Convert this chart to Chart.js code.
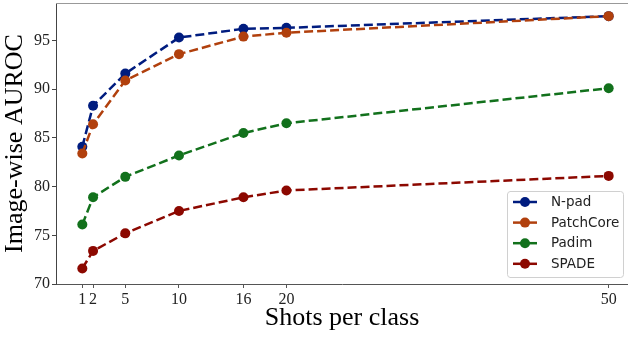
<!DOCTYPE html>
<html><head><meta charset="utf-8">
<script src="https://cdn.jsdelivr.net/npm/chart.js@4"></script>
<style>html,body{margin:0;padding:0;background:#fff}#wrap{width:628px;height:337px}</style>
</head><body><div id="wrap"><canvas id="c" width="628" height="337"></canvas></div>
<script>
const shots = [1, 2, 5, 10, 16, 20, 50];
const xTicks = [1, 2, 5, 10, 16, 20, 50];
const yTicks = [70, 75, 80, 85, 90, 95];
const seriesNames = ['N-pad', 'PatchCore', 'Padim', 'SPADE'];
const nPad = [84.1, 88.3, 91.6, 95.3, 96.2, 96.3, 97.5];
const patchCore = [83.4, 86.4, 90.9, 93.6, 95.4, 95.8, 97.5];
const padim = [76.1, 78.9, 81.0, 83.2, 85.5, 86.5, 90.1];
const spade = [71.6, 73.4, 75.2, 77.5, 78.9, 79.6, 81.1];
const seriesValues = [nPad, patchCore, padim, spade];
const colors = ['#001c7f', '#b1400d', '#12711c', '#8c0800'];

const serif = "'Liberation Serif', 'Times New Roman', serif";
const sans = "'DejaVu Sans', sans-serif";

const datasets = seriesNames.map((name, i) => ({
  label: name,
  data: shots.map((x, j) => ({ x: x, y: seriesValues[i][j] })),
  borderColor: colors[i],
  backgroundColor: colors[i],
  pointBackgroundColor: colors[i],
  pointBorderWidth: 0,
  pointRadius: 5,
  borderWidth: 2.5,
  borderDash: [9, 4],
  tension: 0,
  fill: false,
  order: seriesNames.length - i
}));

const extras = {
  id: 'extras',
  afterDraw(chart) {
    const ctx = chart.ctx;
    const a = chart.chartArea;
    ctx.save();
    // top spine
    ctx.strokeStyle = '#999';
    ctx.lineWidth = 1.2;
    ctx.beginPath();
    ctx.moveTo(a.left, a.top + 0.5);
    ctx.lineTo(chart.width, a.top + 0.5);
    ctx.stroke();
    // legend
    const bx = 507, by = 191, bw = 116, bh = 86, r = 3;
    ctx.fillStyle = 'rgba(255,255,255,0.85)';
    ctx.strokeStyle = '#d0d0d0';
    ctx.lineWidth = 1;
    ctx.beginPath();
    ctx.moveTo(bx + r, by + 0.5);
    ctx.lineTo(bx + bw - r, by + 0.5);
    ctx.arcTo(bx + bw + 0.5, by + 0.5, bx + bw + 0.5, by + r, r);
    ctx.lineTo(bx + bw + 0.5, by + bh - r);
    ctx.arcTo(bx + bw + 0.5, by + bh + 0.5, bx + bw - r, by + bh + 0.5, r);
    ctx.lineTo(bx + r, by + bh + 0.5);
    ctx.arcTo(bx + 0.5, by + bh + 0.5, bx + 0.5, by + bh - r, r);
    ctx.lineTo(bx + 0.5, by + r);
    ctx.arcTo(bx + 0.5, by + 0.5, bx + r, by + 0.5, r);
    ctx.closePath();
    ctx.fill();
    ctx.stroke();
    ctx.font = '13.5px ' + sans;
    ctx.textBaseline = 'middle';
    ctx.textAlign = 'left';
    seriesNames.forEach((name, i) => {
      const y = 202 + i * 20.6;
      ctx.strokeStyle = colors[i];
      ctx.lineWidth = 2.5;
      ctx.beginPath();
      ctx.moveTo(513, y);
      ctx.lineTo(537, y);
      ctx.stroke();
      ctx.fillStyle = colors[i];
      ctx.beginPath();
      ctx.arc(525, y, 5, 0, Math.PI * 2);
      ctx.fill();
      ctx.fillStyle = '#222';
      ctx.fillText(name, 551, y + 0.5);
    });
    ctx.restore();
  }
};

new Chart(document.getElementById('c'), {
  type: 'line',
  data: { datasets: datasets },
  options: {
    responsive: false,
    devicePixelRatio: 1,
    animation: false,
    layout: { padding: { top: 3, right: 0, left: 0, bottom: 0 }, autoPadding: false },
    plugins: { legend: { display: false }, tooltip: { enabled: false } },
    scales: {
      x: {
        type: 'linear',
        min: -1.45,
        max: 51.8,
        afterBuildTicks: s => { s.ticks = xTicks.map(v => ({ value: v })); },
        afterFit: s => { s.height = 53; s.paddingLeft = 0; s.paddingRight = 0; },
        ticks: { font: { family: serif, size: 16 }, color: '#222', autoSkip: false, maxRotation: 0, padding: 2 },
        grid: { drawOnChartArea: false, drawTicks: true, tickLength: 4, color: '#555', tickWidth: 1 },
        border: { display: true, color: '#555', width: 1 },
        title: { display: true, text: 'Shots per class', font: { family: serif, size: 26 }, color: '#000', padding: { top: 0, bottom: 3 } }
      },
      y: {
        type: 'linear',
        min: 70,
        max: 98.85,
        afterBuildTicks: s => { s.ticks = yTicks.map(v => ({ value: v })); },
        afterFit: s => { s.width = 56; s.paddingTop = 0; s.paddingBottom = 0; },
        ticks: { font: { family: serif, size: 16 }, color: '#222', padding: 2 },
        grid: { drawOnChartArea: false, drawTicks: true, tickLength: 4, color: '#444', tickWidth: 1 },
        border: { display: true, color: '#444', width: 1 },
        title: { display: true, text: 'Image-wise AUROC', font: { family: serif, size: 26 }, color: '#000', padding: { top: 0, bottom: 0 } }
      }
    }
  },
  plugins: [extras]
});
</script>
</body></html>
